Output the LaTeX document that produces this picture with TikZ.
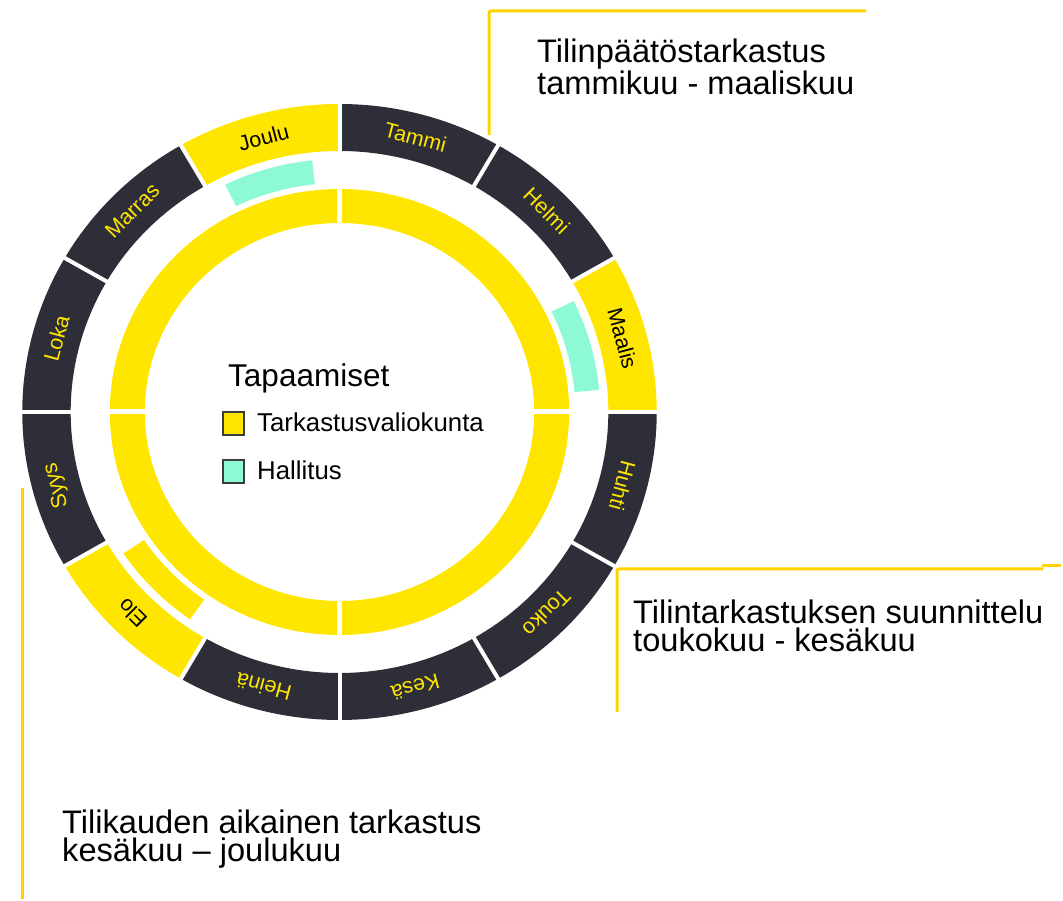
\documentclass[tikz,border=0pt]{standalone}
\usepackage{fontspec}
\setmainfont{Liberation Sans}
\definecolor{eyyellow}{HTML}{FFE600}
\definecolor{eydark}{HTML}{2E2E38}
\definecolor{eyteal}{HTML}{8DF9D6}
\definecolor{linegold}{HTML}{FFD200}
\definecolor{legendborder}{HTML}{3C3C3C}
\newcommand\ringsector[5]{\fill[#1] (#2:#4pt) arc[start angle=#2,end angle=#3,radius=#4pt] -- (#3:#5pt) arc[start angle=#3,end angle=#2,radius=#5pt] -- cycle;}
\begin{document}
\begin{tikzpicture}[x=1pt,y=1pt,
  monthlabel/.style={font=\fontsize{21.5}{24}\selectfont, inner sep=0pt},
  callout/.style={draw=linegold, line width=3pt},
  callouttext/.style={font=\fontsize{32.6}{28}\selectfont, align=left, anchor=north west, inner sep=0pt},
  legendbox/.style={draw=legendborder, line width=1.5pt, minimum width=21pt, minimum height=23pt, inner sep=0pt},
  legendtext/.style={font=\fontsize{25.8}{28}\selectfont, anchor=base west, inner sep=0pt}]
\useasboundingbox (0,0) rectangle (1063,901);
\begin{scope}[shift={(339.5,489)}, xscale=1.03]
  % outer month ring
  \foreach \start/\col/\txt/\tcol [count=\i] in {60/eydark/Tammi/eyyellow, 30/eydark/Helmi/eyyellow, 0/eyyellow/Maalis/black, -30/eydark/Huhti/eyyellow, -60/eydark/Touko/eyyellow, -90/eydark/Kesä/eyyellow, 240/eydark/Heinä/eyyellow, 210/eyyellow/Elo/black, 180/eydark/Syys/eyyellow, 150/eydark/Loka/eyyellow, 120/eydark/Marras/eyyellow, 90/eyyellow/Joulu/black}
  {
    \pgfmathsetmacro\endang{\start+30}
    \pgfmathsetmacro\midang{\start+15}
    \ringsector{\col}{\start}{\endang}{261}{308}
    \node[monthlabel, text=\tcol, rotate=\midang-90] (m\i) at (\midang:284.5pt) {\txt};
  }
  \foreach \a in {0,30,...,330}
    \draw[white, line width=4pt] (\a:255pt) -- (\a:314pt);
  % inner ring
  \ringsector{eyyellow}{0}{360}{189}{223}
  \foreach \a in {0,90,180,270}
    \draw[white, line width=5pt] (\a:183pt) -- (\a:229pt);
  % meeting arcs
  \ringsector{eyteal}{96}{116}{229}{253}
  \ringsector{eyteal}{5}{26}{229}{253}
  \ringsector{eyyellow}{214}{235}{229}{253}
\end{scope}
% legend
\node[font=\fontsize{31.5}{32}\selectfont, anchor=base west, inner sep=0pt] (lgtitle) at (228,514) {Tapaamiset};
\node[legendbox, fill=eyyellow] (lgbox1) at (233.5,477.5) {};
\node[legendtext] (lgtext1) at (257,469) {Tarkastusvaliokunta};
\node[legendbox, fill=eyteal] (lgbox2) at (233.5,429.5) {};
\node[legendtext] (lgtext2) at (257,421) {Hallitus};
% callouts
\coordinate (c1a) at (489,766);
\coordinate (c1b) at (489,890);
\coordinate (c1c) at (866,890);
\draw[callout, rounded corners=2pt] (c1a) -- (c1b) -- (c1c);
\node[callouttext] (t1) at (537,862) {Tilinpäätöstarkastus\\tammikuu - maaliskuu};
\coordinate (c2a) at (617,189);
\coordinate (c2b) at (617,332);
\coordinate (c2c) at (1043,332);
\coordinate (c2d) at (1042,335);
\coordinate (c2e) at (1061,335);
\draw[callout, rounded corners=2pt] (c2a) -- (c2b) -- (c2c);
\draw[callout] (c2d) -- (c2e);
\node[callouttext] (t2) at (633,301) {Tilintarkastuksen suunnittelu\\toukokuu - kesäkuu};
\coordinate (c3a) at (22,413);
\coordinate (c3b) at (22,2);
\draw[callout] (c3a) -- (c3b);
\node[callouttext] (t3) at (62,91) {Tilikauden aikainen tarkastus\\kesäkuu – joulukuu};
\end{tikzpicture}
\end{document}
